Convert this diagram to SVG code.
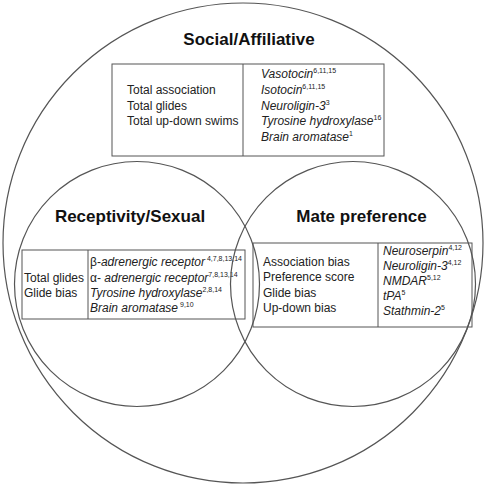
<svg xmlns="http://www.w3.org/2000/svg" width="491" height="488" viewBox="0 0 491 488">
<style>
.c{fill:none;stroke:#555;stroke-width:1.2}
.b{fill:none;stroke:#555;stroke-width:1}
.t{font-family:"Liberation Sans",Arial,sans-serif;font-size:17px;font-weight:bold;fill:#111;text-anchor:middle}
.x{font-family:"Liberation Sans",Arial,sans-serif;font-size:12px;fill:#222}
.i{font-style:italic}
.s{font-size:7px;font-style:normal}
</style>
<rect width="491" height="488" fill="#fff"/>
<g id="social">
<circle class="c" cx="243" cy="243" r="240"/>
<text class="t" x="249" y="45">Social/Affiliative</text>
<rect class="b" x="112" y="64" width="272" height="92"/>
<line class="b" x1="243" y1="64" x2="243" y2="156"/>
<text class="x" x="127" y="94">Total association</text>
<text class="x" x="127" y="109.5">Total glides</text>
<text class="x" x="127" y="125">Total up-down swims</text>
<text class="x i" x="261" y="78">Vasotocin<tspan class="s" dy="-5">6,11,15</tspan></text>
<text class="x i" x="261" y="94">Isotocin<tspan class="s" dy="-5">6,11,15</tspan></text>
<text class="x i" x="261" y="109.5">Neuroligin-3<tspan class="s" dy="-5">3</tspan></text>
<text class="x i" x="261" y="125">Tyrosine hydroxylase<tspan class="s" dy="-5">16</tspan></text>
<text class="x i" x="261" y="141">Brain aromatase<tspan class="s" dy="-5">1</tspan></text>
</g>
<g id="receptivity">
<circle class="c" cx="137" cy="284" r="122.5"/>
<text class="t" x="130" y="222">Receptivity/Sexual</text>
<rect class="b" x="22" y="250" width="223" height="69"/>
<line class="b" x1="88" y1="250" x2="88" y2="319"/>
<text class="x" x="24" y="282">Total glides</text>
<text class="x" x="24" y="296.5">Glide bias</text>
<text class="x" x="90" y="266"><tspan>β-</tspan><tspan class="i">adrenergic receptor</tspan><tspan class="s" dy="-5"> 4,7,8,13,14</tspan></text>
<text class="x" x="90" y="281.5"><tspan>α- </tspan><tspan class="i">adrenergic receptor</tspan><tspan class="s" dy="-5">7,8,13,14</tspan></text>
<text class="x i" x="90" y="296.5">Tyrosine hydroxylase<tspan class="s" dy="-5">2,8,14</tspan></text>
<text class="x i" x="90" y="311.5">Brain aromatase<tspan class="s" dy="-5"> 9,10</tspan></text>
</g>
<g id="mate">
<circle class="c" cx="353" cy="284" r="122.5"/>
<text class="t" x="361.5" y="222">Mate preference</text>
<rect class="b" x="253" y="243" width="219" height="84"/>
<line class="b" x1="378" y1="243" x2="378" y2="327"/>
<text class="x" x="263" y="266">Association bias</text>
<text class="x" x="263" y="281">Preference score</text>
<text class="x" x="263" y="296.5">Glide bias</text>
<text class="x" x="263" y="312">Up-down bias</text>
<text class="x i" x="383" y="255">Neuroserpin<tspan class="s" dy="-5">4,12</tspan></text>
<text class="x i" x="383" y="270">Neuroligin-3<tspan class="s" dy="-5">4,12</tspan></text>
<text class="x i" x="383" y="285">NMDAR<tspan class="s" dy="-5">5,12</tspan></text>
<text class="x i" x="383" y="300">tPA<tspan class="s" dy="-5">5</tspan></text>
<text class="x i" x="383" y="315">Stathmin-2<tspan class="s" dy="-5">5</tspan></text>
</g>
<g id="connectors"/>
</svg>
